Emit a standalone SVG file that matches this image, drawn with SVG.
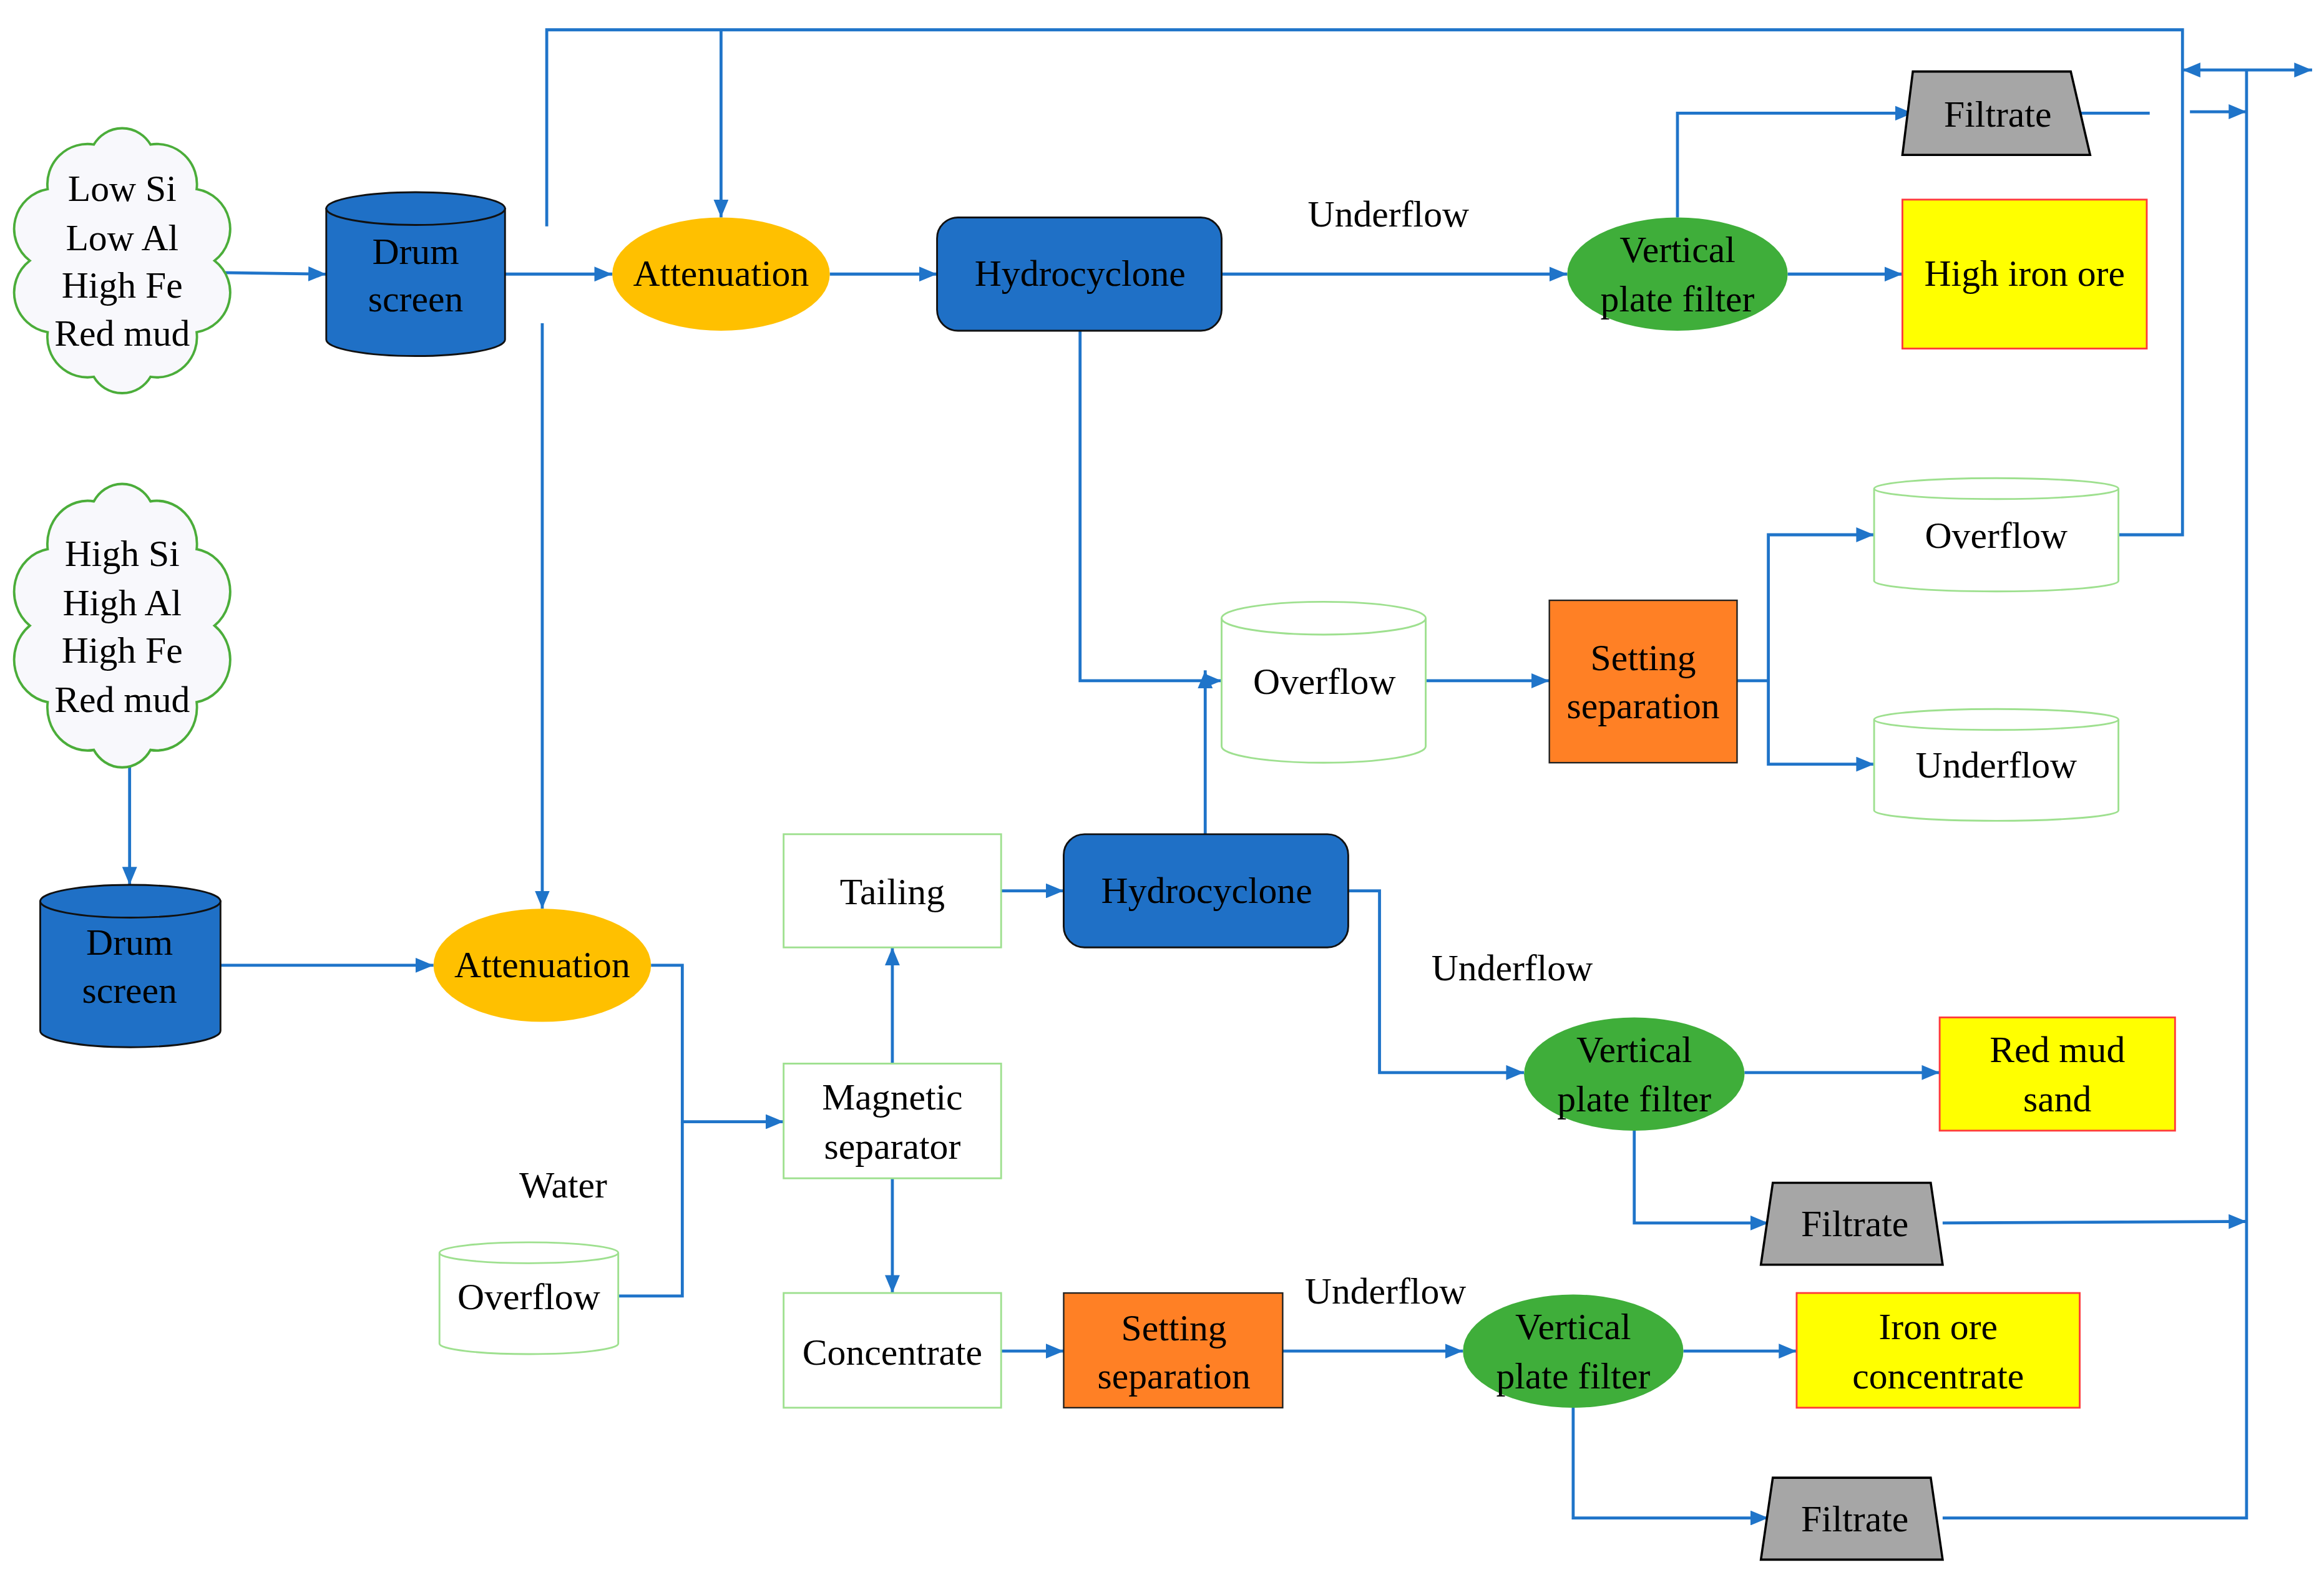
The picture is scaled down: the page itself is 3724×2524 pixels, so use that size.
<svg xmlns="http://www.w3.org/2000/svg" width="3724" height="2524" viewBox="0 0 3724 2524">
<style>
text{font-family:"Liberation Serif","Times New Roman",serif;font-size:25px;fill:#000;text-anchor:middle}
.ln{fill:none;stroke:#1f74c9;stroke-width:2}
.ar{marker-end:url(#ah)}
.cloud{fill:#f8f8fc;stroke:#4bad3a;stroke-width:1.6}
.blue{fill:#1f70c6;stroke:#111;stroke-width:1.2}
.att{fill:#ffc000;stroke:none}
.vpf{fill:#3fae3a;stroke:none}
.set{fill:#ff8025;stroke:#222;stroke-width:1}
.yel{fill:#ffff00;stroke:#ff3a3a;stroke-width:1.2}
.gray{fill:#a6a6a6;stroke:#000;stroke-width:1.5}
.wb{fill:#fff;stroke:#9ee08f;stroke-width:1.2}
</style>
<defs>
<marker id="ah" markerUnits="strokeWidth" markerWidth="6" markerHeight="5" refX="6" refY="2.5" orient="auto-start-reverse"><path d="M0,0 L6,2.5 L0,5 z" fill="#1f74c9"/></marker>
<path id="cl" d="M144,175 A27,27 0 0 1 132,223 A27,27 0 0 1 101,253 A22,22 0 0 1 63,253 A27,27 0 0 1 32,223 A27,27 0 0 1 20,175 A27,27 0 0 1 32,127 A27,27 0 0 1 63,97 A22,22 0 0 1 101,97 A27,27 0 0 1 132,127 A27,27 0 0 1 144,175 z"/>
</defs>
<rect width="3724" height="2524" fill="#fff"/>
<g transform="scale(2.3872)">
<g id="connectors">
<path class="ln ar" d="M148,183 L219,184"/>
<path class="ln ar" d="M339,184 L411,184"/>
<path class="ln" d="M367,152 L367,20 L1465,20 L1465,359 L1422,359"/>
<path class="ln ar" d="M484,20 L484,146"/>
<path class="ln" d="M1465,47 L1552,47" style="marker-start:url(#ah);marker-end:url(#ah)"/>
<path class="ln" d="M1508,47 L1508,1019 L1304,1019"/>
<path class="ln ar" d="M1470,75 L1508,75"/>
<path class="ln" d="M1392,76 L1443,76"/>
<path class="ln ar" d="M557,184 L629,184"/>
<path class="ln ar" d="M820,184 L1052,184"/>
<path class="ln ar" d="M1126,146 L1126,76 L1284,76"/>
<path class="ln ar" d="M1200,184 L1277,184"/>
<path class="ln ar" d="M725,222 L725,457 L820,457"/>
<path class="ln ar" d="M809,560 L809,450"/>
<path class="ln ar" d="M957,457 L1040,457"/>
<path class="ln ar" d="M1166,457 L1187,457 L1187,359 L1258,359"/>
<path class="ln ar" d="M1187,457 L1187,513 L1258,513"/>
<path class="ln ar" d="M364,217 L364,610"/>
<path class="ln ar" d="M148,648 L291,648"/>
<path class="ln ar" d="M87,510 L87,594"/>
<path class="ln ar" d="M437,648 L458,648 L458,753 L526,753"/>
<path class="ln" d="M415,870 L458,870 L458,753"/>
<path class="ln ar" d="M599,714 L599,636"/>
<path class="ln ar" d="M599,791 L599,868"/>
<path class="ln ar" d="M672,598 L714,598"/>
<path class="ln ar" d="M905,598 L926,598 L926,720 L1023,720"/>
<path class="ln ar" d="M1171,720 L1302,720"/>
<path class="ln ar" d="M1097,759 L1097,821 L1187,821"/>
<path class="ln ar" d="M1304,821 L1508,820"/>
<path class="ln ar" d="M672,907 L714,907"/>
<path class="ln ar" d="M861,907 L982,907"/>
<path class="ln ar" d="M1130,907 L1206,907"/>
<path class="ln ar" d="M1056,945 L1056,1019 L1187,1019"/>
</g>
<g id="cloud1"><use href="#cl" class="cloud"/>
<text x="82" y="135">Low Si</text><text x="82" y="168">Low Al</text><text x="82" y="200">High Fe</text><text x="82" y="232">Red mud</text></g>
<g id="cloud2"><use href="#cl" class="cloud" transform="translate(0,420) scale(1,1.07) translate(0,-175)"/>
<text x="82" y="380">High Si</text><text x="82" y="413">High Al</text><text x="82" y="445">High Fe</text><text x="82" y="478">Red mud</text></g>
<g id="drum1"><path class="blue" d="M219,140 L219,228 A60,11 0 0 0 339,228 L339,140 z"/><ellipse class="blue" cx="279" cy="140" rx="60" ry="11"/>
<text x="279" y="177">Drum</text><text x="279" y="209">screen</text></g>
<g id="drum2"><path class="blue" d="M27,605 L27,692 A60.5,11 0 0 0 148,692 L148,605 z"/><ellipse class="blue" cx="87.5" cy="605" rx="60.5" ry="11"/>
<text x="87" y="641">Drum</text><text x="87" y="673">screen</text></g>
<g id="att1"><ellipse class="att" cx="484" cy="184" rx="73" ry="38"/><text x="484" y="192">Attenuation</text></g>
<g id="att2"><ellipse class="att" cx="364" cy="648" rx="73" ry="38"/><text x="364" y="656">Attenuation</text></g>
<g id="hydro1"><rect class="blue" x="629" y="146" width="191" height="76" rx="14"/><text x="725" y="192">Hydrocyclone</text></g>
<g id="hydro2"><rect class="blue" x="714" y="560" width="191" height="76" rx="14"/><text x="810" y="606">Hydrocyclone</text></g>
<text x="932" y="152">Underflow</text>
<text x="1015" y="658">Underflow</text>
<text x="930" y="875">Underflow</text>
<text x="378" y="804">Water</text>
<g id="vpf1"><ellipse class="vpf" cx="1126" cy="184" rx="74" ry="38"/><text x="1126" y="176">Vertical</text><text x="1126" y="209">plate filter</text></g>
<g id="vpf2"><ellipse class="vpf" cx="1097" cy="721" rx="74" ry="38"/><text x="1097" y="713">Vertical</text><text x="1097" y="746">plate filter</text></g>
<g id="vpf3"><ellipse class="vpf" cx="1056" cy="907" rx="74" ry="38"/><text x="1056" y="899">Vertical</text><text x="1056" y="932">plate filter</text></g>
<g id="filtrate1"><path class="gray" d="M1284,48 L1390,48 L1403,104 L1277,104 z"/><text x="1341" y="85">Filtrate</text></g>
<g id="filtrate2"><path class="gray" d="M1190,794 L1296,794 L1304,849 L1182,849 z"/><text x="1245" y="830">Filtrate</text></g>
<g id="filtrate3"><path class="gray" d="M1190,992 L1296,992 L1304,1047 L1182,1047 z"/><text x="1245" y="1028">Filtrate</text></g>
<g id="highiron"><rect class="yel" x="1277" y="134" width="164" height="100"/><text x="1359" y="192">High iron ore</text></g>
<g id="redmudsand"><rect class="yel" x="1302" y="683" width="158" height="76"/><text x="1381" y="713">Red mud</text><text x="1381" y="746">sand</text></g>
<g id="ironconc"><rect class="yel" x="1206" y="868" width="190" height="77"/><text x="1301" y="899">Iron ore</text><text x="1301" y="932">concentrate</text></g>
<g id="overflowmid"><path class="wb" d="M820,415 L820,501 A68.5,11 0 0 0 957,501 L957,415"/><ellipse class="wb" cx="888.5" cy="415" rx="68.5" ry="11"/><text x="889" y="466">Overflow</text></g>
<g id="overflowright"><path class="wb" d="M1258,328 L1258,390 A82,7 0 0 0 1422,390 L1422,328"/><ellipse class="wb" cx="1340" cy="328" rx="82" ry="7"/><text x="1340" y="368">Overflow</text></g>
<g id="underflowright"><path class="wb" d="M1258,483 L1258,544 A82,7 0 0 0 1422,544 L1422,483"/><ellipse class="wb" cx="1340" cy="483" rx="82" ry="7"/><text x="1340" y="522">Underflow</text></g>
<g id="overflowleft"><path class="wb" d="M295,841 L295,902 A60,7 0 0 0 415,902 L415,841"/><ellipse class="wb" cx="355" cy="841" rx="60" ry="7"/><text x="355" y="879">Overflow</text></g>
<g id="setting1"><rect class="set" x="1040" y="403" width="126" height="109"/><text x="1103" y="450">Setting</text><text x="1103" y="482">separation</text></g>
<g id="setting2"><rect class="set" x="714" y="868" width="147" height="77"/><text x="788" y="900">Setting</text><text x="788" y="932">separation</text></g>
<g id="tailing"><rect class="wb" x="526" y="560" width="146" height="76"/><text x="599" y="607">Tailing</text></g>
<g id="magnetic"><rect class="wb" x="526" y="714" width="146" height="77"/><text x="599" y="745">Magnetic</text><text x="599" y="778">separator</text></g>
<g id="concentrate"><rect class="wb" x="526" y="868" width="146" height="77"/><text x="599" y="916">Concentrate</text></g>
</g>
</svg>
